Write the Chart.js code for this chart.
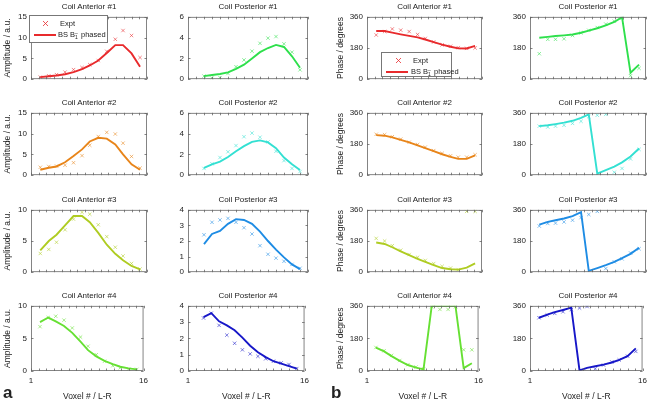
<!DOCTYPE html>
<html>
<head>
<meta charset="utf-8">
<script src="https://cdn.jsdelivr.net/npm/chart.js@4.4.0/dist/chart.umd.min.js"></script>
<style>
  body { margin:0; width:652px; height:406px; overflow:hidden; position:relative; background:#fff;
         font-family:"Liberation Sans", Arial, sans-serif; color:#222; }
  canvas { position:absolute; }
  .ttl { position:absolute; font-size:8px; line-height:10px; height:10px; text-align:center; white-space:nowrap; }
  .leg { position:absolute; background:#fff; border:0.8px solid #777; box-sizing:border-box; font-size:7.5px; }
  .leg .row { position:absolute; left:0; white-space:nowrap; line-height:9px; }
  .ss { display:inline-block; vertical-align:middle; font-size:5px; line-height:4px; text-align:left; margin:0 1px 0 0; }
  .letter { position:absolute; font-size:17px; font-weight:bold; line-height:17px; }
</style>
</head>
<body>
<script>
// voxel positions of the samples
const xAnt = [2.2, 3.3, 4.3, 5.4, 6.5, 7.6, 8.6, 9.7, 10.8, 11.9, 12.9, 14.0, 15.1];
const xVox = [3, 4, 5, 6, 7, 8, 9, 10, 11, 12, 13, 14, 15];

// amplitude, a.u.
const ampAnt1Expt = [0.5, 0.8, 1.1, 1.7, 2.3, 2.8, 3.5, 4.5, 6.7, 9.6, 11.7, 10.5, 5.2];
const ampAnt1Fit  = [0.5, 0.7, 0.9, 1.2, 1.7, 2.4, 3.3, 4.5, 6.3, 8.2, 8.2, 6.2, 3.0];
const ampPost1Expt = [0.3, 0.1, 0.15, 0.55, 1.2, 1.85, 2.7, 3.45, 3.95, 4.1, 3.4, 2.6, 0.9];
const ampPost1Fit  = [0.3, 0.4, 0.5, 0.65, 1.0, 1.4, 2.0, 2.6, 3.0, 3.3, 3.1, 2.2, 1.1];
const ampAnt2Expt = [1.9, 2.1, 2.2, 2.4, 3.0, 4.7, 7.2, 9.3, 10.3, 9.9, 7.7, 4.5, 1.7];
const ampAnt2Fit  = [1.3, 1.8, 2.1, 3.1, 4.6, 6.2, 8.1, 9.0, 8.8, 7.4, 5.0, 2.6, 1.3];
const ampPost2Expt = [0.65, 1.1, 1.7, 2.25, 2.85, 3.7, 4.05, 3.65, 3.2, 2.3, 1.4, 0.65, 0.35];
const ampPost2Fit  = [0.7, 1.05, 1.3, 1.75, 2.3, 2.8, 3.2, 3.35, 3.15, 2.6, 1.7, 1.05, 0.5];
const ampAnt3Expt = [3.0, 3.65, 4.8, 6.8, 8.5, 9.6, 9.3, 7.6, 5.7, 4.0, 2.6, 1.4, 0.5];
const ampAnt3Fit  = [3.5, 5.0, 6.0, 7.5, 9.0, 9.0, 8.0, 6.3, 4.4, 2.95, 1.9, 1.0, 0.45];
const ampPost3Expt = [2.4, 3.2, 3.35, 3.45, 3.2, 2.85, 2.45, 1.7, 1.15, 0.9, 0.7, 0.5, 0.25];
const ampPost3Fit  = [1.8, 2.45, 2.65, 3.1, 3.4, 3.35, 3.1, 2.6, 2.0, 1.45, 0.95, 0.5, 0.2];
const ampAnt4Expt = [6.8, 8.2, 8.4, 7.8, 6.6, 5.2, 3.8, 2.5, 1.5, 0.8, 0.5, 0.3, 0.25];
const ampAnt4Fit  = [7.5, 8.2, 7.6, 6.9, 5.85, 4.5, 3.2, 2.25, 1.55, 1.05, 0.65, 0.4, 0.25];
const ampPost4Expt = [3.25, 3.55, 2.8, 2.2, 1.7, 1.3, 1.05, 0.9, 0.75, 0.6, 0.5, 0.4, 0.15];
const ampPost4Fit  = [3.3, 3.55, 3.05, 2.8, 2.5, 2.05, 1.55, 1.15, 0.85, 0.6, 0.45, 0.3, 0.15];

// phase, degrees
const phsAnt1Expt = [255, 275, 290, 283, 275, 258, 235, 215, 198, 190, 182, 178, 180];
const phsAnt1Fit  = [278, 278, 269, 259, 250, 241, 229, 214, 199, 187, 178, 177, 192];
const phsPost1Expt = [147, 230, 230, 233, 252, 268, 282, 298, 318, 335, 352, 20, 63];
const phsPost1Fit  = [239, 244, 249, 253, 258, 268, 280, 294, 310, 330, 358, 37, 84];
const phsAnt2Expt = [236, 234, 222, 208, 190, 177, 162, 142, 126, 112, 104, 104, 118];
const phsAnt2Fit  = [231, 228, 218, 204, 189, 172, 156, 139, 121, 106, 94, 94, 114];
const phsPost2Expt = [283, 278, 283, 288, 299, 311, 338, 346, 351, 17, 39, 94, 149];
const phsPost2Fit  = [283, 288, 295, 303, 314, 331, 351, 9, 29, 50, 74, 108, 154];
const phsAnt3Expt = [195, 180, 153, 127, 102, 86, 68, 50, 34, 24, 15, 351, 351];
const phsAnt3Fit  = [171, 163, 144, 120, 98, 77, 60, 41, 24, 17, 15, 26, 51];
const phsPost3Expt = [266, 281, 283, 290, 300, 315, 333, 351, 21, 60, 77, 111, 135];
const phsPost3Fit  = [274, 290, 300, 310, 324, 346, 8, 24, 41, 60, 81, 106, 141];
const phsAnt4Expt = [130, 112, 86, 58, 35, 22, 12, 355, 340, 340, 355, 117, 117];
const phsAnt4Fit  = [129, 108, 82, 56, 33, 19, 9, 358, 358, 358, 358, 16, 43];
const phsPost4Expt = [294, 309, 318, 327, 339, 348, 356, 12, 33, 50, 61, 82, 108];
const phsPost4Fit  = [294, 311, 325, 337, 350, 3, 17, 26, 35, 47, 61, 82, 125];

// y tick labels
const ticksAmp15 = [0, 5, 10, 15];
const ticksAmp10 = [0, 5, 10];
const ticksAmp6 = [0, 2, 4, 6];
const ticksAmp4 = [0, 1, 2, 3, 4];
const ticksPhase = [0, 180, 360];
const xTickLabels = [1, 16];

const coilColors = ['#e82a2c', '#2ee04c', '#e8851a', '#33e0d2', '#afcc22', '#1e8ce4', '#66e033', '#1717c8'];

// layout of the 4x4 grid (px)
const colLeft = [31, 188, 367, 530];
const colWidth = [116, 120, 115, 116];
const rowTop = [14, 110, 207, 303];
const rowH = 68;
const leftGap = [30, 24, 33, 24];

const panels = [
  ['Coil Anterior #1', 0, 0, xAnt, ampAnt1Expt, ampAnt1Fit, ticksAmp15, 0],
  ['Coil Posterior #1', 0, 1, xVox, ampPost1Expt, ampPost1Fit, ticksAmp6, 1],
  ['Coil Anterior #1', 0, 2, xAnt, phsAnt1Expt, phsAnt1Fit, ticksPhase, 0],
  ['Coil Posterior #1', 0, 3, xAnt, phsPost1Expt, phsPost1Fit, ticksPhase, 1],
  ['Coil Anterior #2', 1, 0, xAnt, ampAnt2Expt, ampAnt2Fit, ticksAmp15, 2],
  ['Coil Posterior #2', 1, 1, xVox, ampPost2Expt, ampPost2Fit, ticksAmp6, 3],
  ['Coil Anterior #2', 1, 2, xAnt, phsAnt2Expt, phsAnt2Fit, ticksPhase, 2],
  ['Coil Posterior #2', 1, 3, xAnt, phsPost2Expt, phsPost2Fit, ticksPhase, 3],
  ['Coil Anterior #3', 2, 0, xAnt, ampAnt3Expt, ampAnt3Fit, ticksAmp10, 4],
  ['Coil Posterior #3', 2, 1, xVox, ampPost3Expt, ampPost3Fit, ticksAmp4, 5],
  ['Coil Anterior #3', 2, 2, xAnt, phsAnt3Expt, phsAnt3Fit, ticksPhase, 4],
  ['Coil Posterior #3', 2, 3, xAnt, phsPost3Expt, phsPost3Fit, ticksPhase, 5],
  ['Coil Anterior #4', 3, 0, xAnt, ampAnt4Expt, ampAnt4Fit, ticksAmp10, 6],
  ['Coil Posterior #4', 3, 1, xVox, ampPost4Expt, ampPost4Fit, ticksAmp4, 7],
  ['Coil Anterior #4', 3, 2, xAnt, phsAnt4Expt, phsAnt4Fit, ticksPhase, 6],
  ['Coil Posterior #4', 3, 3, xAnt, phsPost4Expt, phsPost4Fit, ticksPhase, 7]
];

// MATLAB-like box with inward tick marks
const matlabBox = {
  id: 'matlabBox',
  afterDatasetsDraw(chart) {
    const { ctx, chartArea: a, scales } = chart;
    ctx.save();
    ctx.strokeStyle = '#666';
    ctx.lineWidth = 0.8;
    ctx.strokeRect(a.left + 0.5, a.top + 0.5, a.right - a.left - 1, a.bottom - a.top - 1);
    ctx.beginPath();
    for (let v = 1; v <= 16; v++) {
      const px = Math.round(scales.x.getPixelForValue(v)) + 0.5;
      ctx.moveTo(px, a.bottom); ctx.lineTo(px, a.bottom - 2.5);
      ctx.moveTo(px, a.top); ctx.lineTo(px, a.top + 2.5);
    }
    scales.y.ticks.forEach(t => {
      const py = Math.round(scales.y.getPixelForValue(t.value)) + 0.5;
      ctx.moveTo(a.left, py); ctx.lineTo(a.left + 2.5, py);
      ctx.moveTo(a.right, py); ctx.lineTo(a.right - 2.5, py);
    });
    ctx.stroke();
    ctx.restore();
  }
};

function addDiv(cls, html, css) {
  const d = document.createElement('div');
  d.className = cls;
  d.innerHTML = html;
  Object.assign(d.style, css);
  document.body.appendChild(d);
  return d;
}

panels.forEach(([title, row, col, xs, expt, fit, yTicks, ci]) => {
  const L = leftGap[col], W = colWidth[col];
  const bottomRow = row === 3;
  const padT = 6, padR = 6, padB = bottomRow ? 0 : 6, B = bottomRow ? 31 : 0;
  const w = L + W + padR, h = padT + rowH + padB + B;
  const cv = document.createElement('canvas');
  cv.width = w; cv.height = h;
  cv.style.left = (colLeft[col] - L) + 'px';
  cv.style.top = (rowTop[row] - padT) + 'px';
  cv.style.width = w + 'px'; cv.style.height = h + 'px';
  document.body.appendChild(cv);

  const color = coilColors[ci];
  const yTitle = col === 0 ? 'Amplitude / a.u.' : (col === 2 ? 'Phase / degrees' : '');

  new Chart(cv, {
    type: 'line',
    data: {
      datasets: [
        {
          label: 'Expt',
          data: xs.map((x, i) => ({ x, y: expt[i] })),
          showLine: false,
          pointStyle: 'crossRot',
          pointRadius: 2.4,
          pointBorderWidth: 0.7,
          borderColor: color + 'cc',
          backgroundColor: color
        },
        {
          label: 'BS B1- phased',
          data: xs.map((x, i) => ({ x, y: fit[i] })),
          borderColor: color,
          borderWidth: 1.9,
          pointRadius: 0,
          tension: 0,
          fill: false
        }
      ]
    },
    options: {
      responsive: false,
      animation: false,
      devicePixelRatio: 1,
      layout: { padding: { top: padT, right: padR, bottom: padB, left: 0 } },
      plugins: { legend: { display: false }, tooltip: { enabled: false } },
      scales: {
        x: {
          type: 'linear', min: 1, max: 16,
          grid: { display: false, drawTicks: false }, border: { display: false },
          ticks: {
            display: bottomRow, stepSize: 1, autoSkip: false, maxRotation: 0, padding: 5,
            color: '#222', font: { size: 8, family: 'Liberation Sans' },
            callback: v => xTickLabels.includes(v) ? String(v) : ''
          },
          title: {
            display: bottomRow, text: 'Voxel # / L-R', color: '#222',
            font: { size: 8.5, family: 'Liberation Sans' }, padding: { top: 0, bottom: 0 }
          },
          afterFit: s => { s.height = B; }
        },
        y: {
          min: yTicks[0], max: yTicks[yTicks.length - 1],
          grid: { display: false, drawTicks: false }, border: { display: false },
          afterBuildTicks: s => { s.ticks = yTicks.map(v => ({ value: v })); },
          ticks: { padding: 4, color: '#222', font: { size: 8, family: 'Liberation Sans' } },
          title: {
            display: yTitle !== '', text: yTitle, color: '#222',
            font: { size: 8.5, family: 'Liberation Sans' }, padding: { top: 2, bottom: 0 }
          },
          afterFit: s => { s.width = L; }
        }
      }
    },
    plugins: [matlabBox]
  });

  addDiv('ttl', title, {
    left: colLeft[col] + 'px', width: W + 'px', top: (rowTop[row] - 12) + 'px'
  });
});

// legends
const crossSvg = c => `<svg width="7" height="7" style="position:absolute;left:-3.5px;top:1px"><path d="M1 1L6 6M6 1L1 6" stroke="${c}" stroke-width="0.8"/></svg>`;
const lineSvg = c => `<svg width="22" height="4" style="position:absolute;left:0;top:2.5px"><path d="M0 2H22" stroke="${c}" stroke-width="2"/></svg>`;
const fitLabel = 'BS B<span class="ss">&#8211;<br>1</span> phased';

function legend(left, top, width, height, mkX, lineX, textX) {
  const d = addDiv('leg', '', { left: left + 'px', top: top + 'px', width: width + 'px', height: height + 'px' });
  d.innerHTML =
    `<div class="row" style="top:3px;left:${mkX}px">${crossSvg(coilColors[0])}</div>` +
    `<div class="row" style="top:3px;left:${textX + 2}px">Expt</div>` +
    `<div class="row" style="top:14px;left:${lineX}px">${lineSvg(coilColors[0])}</div>` +
    `<div class="row" style="top:14px;left:${textX}px">${fitLabel}</div>`;
}
legend(29, 15, 79, 28, 15, 4, 28);
legend(381, 52, 71, 25, 16, 4, 29);

addDiv('letter', 'a', { left: '3px', top: '384px' });
addDiv('letter', 'b', { left: '331px', top: '384px' });
</script>
</body>
</html>
